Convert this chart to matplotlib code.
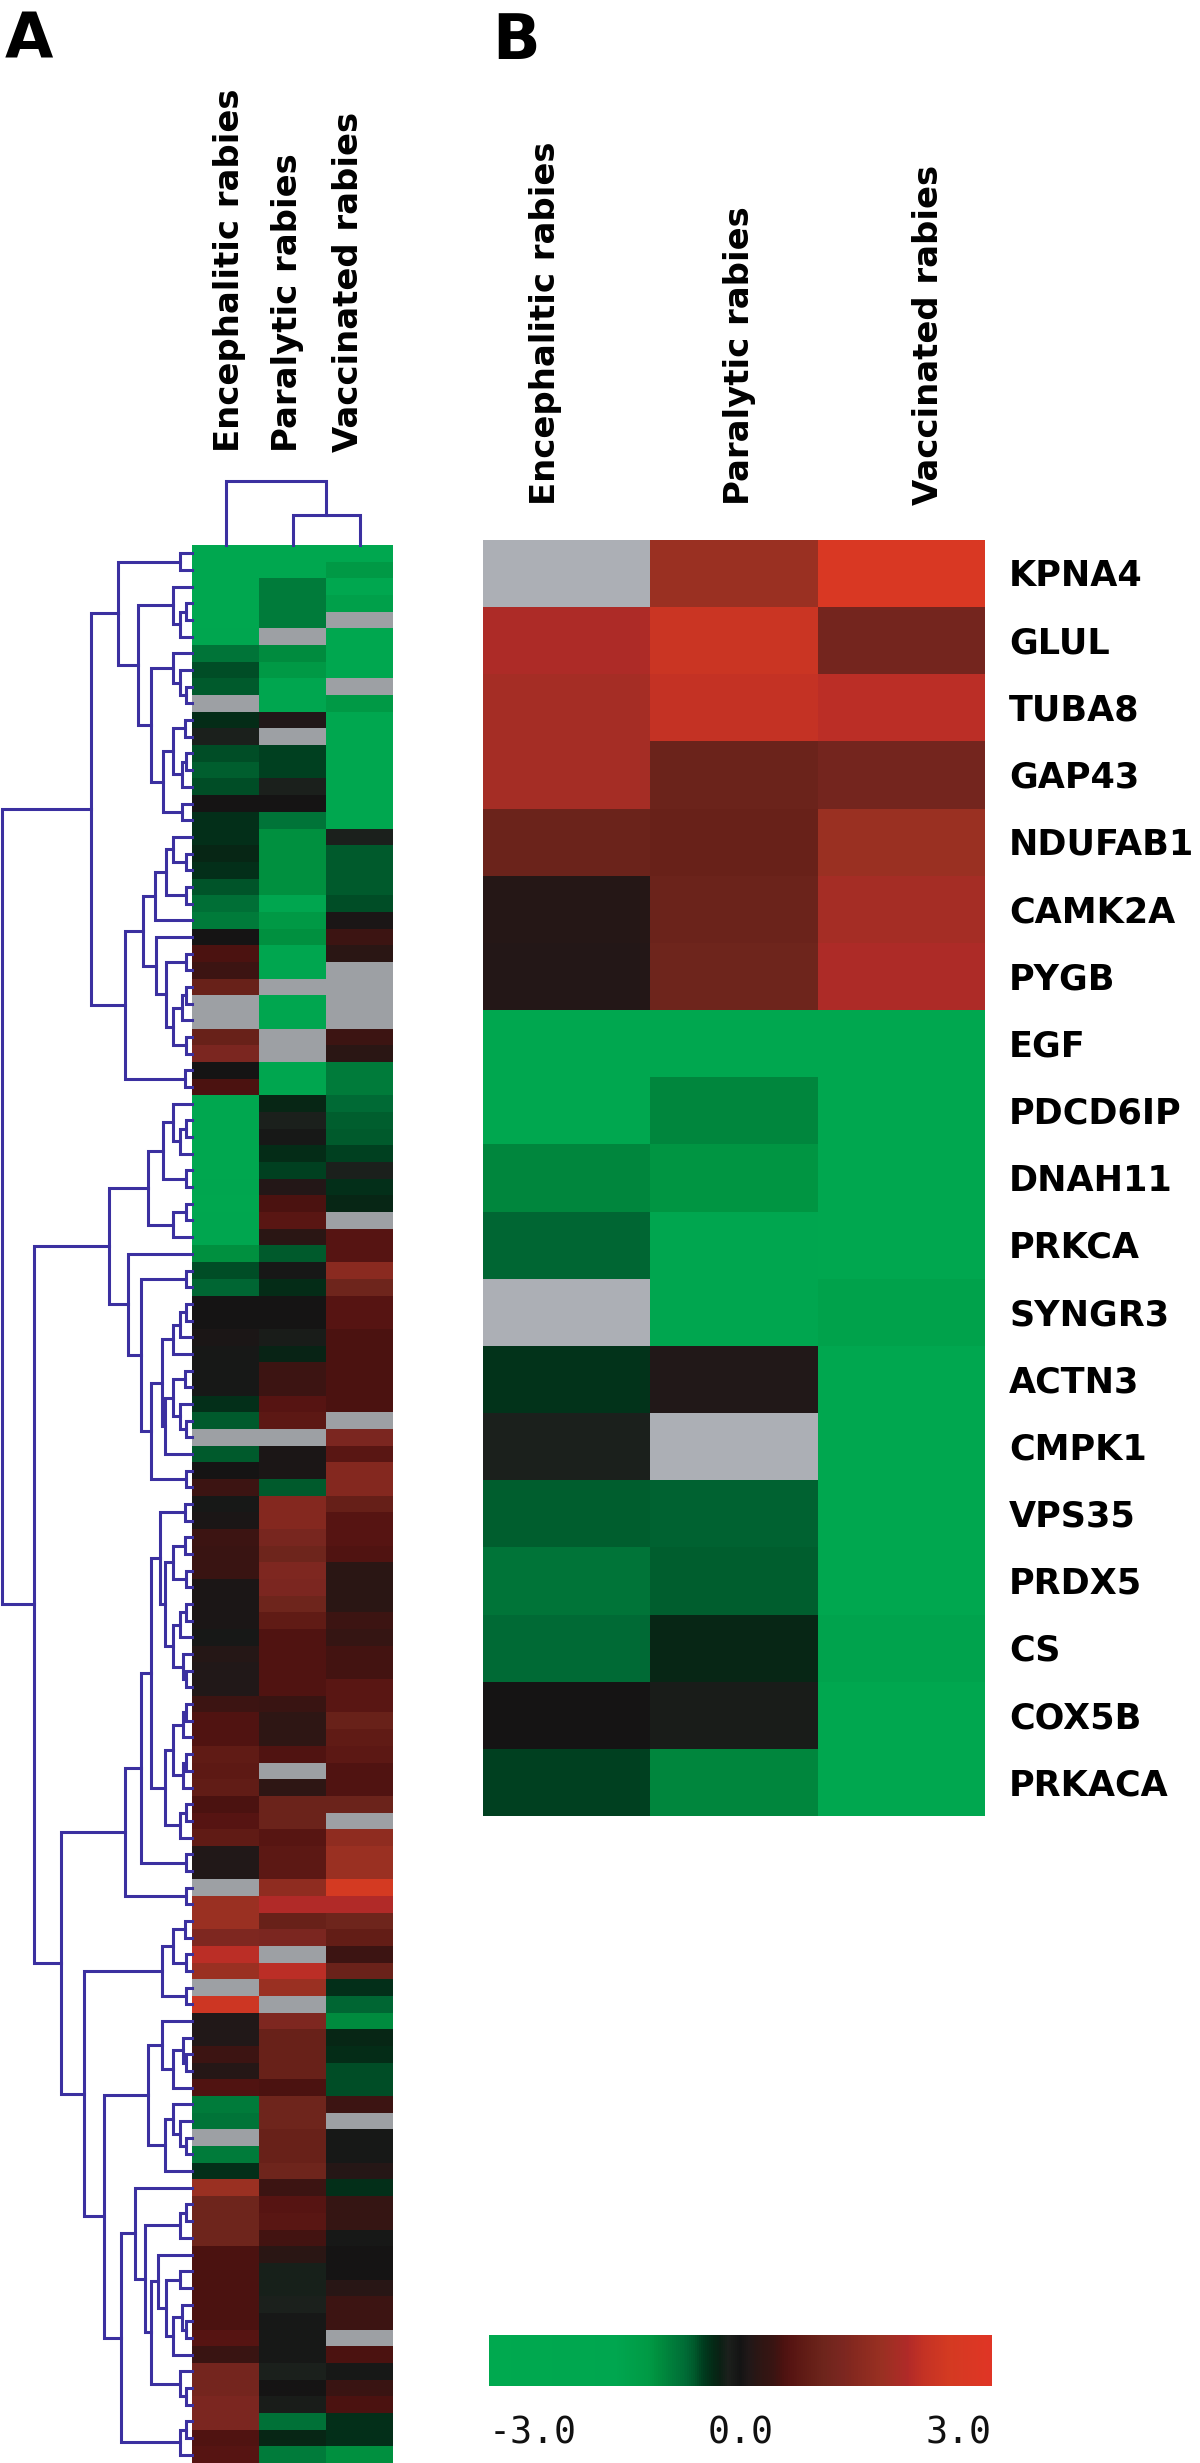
import numpy as np
import matplotlib
matplotlib.use('Agg')
import matplotlib.pyplot as plt
import matplotlib.transforms as mtransforms
from matplotlib.colors import LinearSegmentedColormap, Normalize
from matplotlib.cm import ScalarMappable

plt.rcParams['font.family'] = ['DejaVu Sans']

W, H = 1200, 2463
nan = np.nan

conditions = ['Encephalitic rabies', 'Paralytic rabies', 'Vaccinated rabies']

# panel A: log ratios, 115 genes in dendrogram order (nan = no data, grey)
enc_a = [-2.2, -2.2, -2.0, -1.9, -1.9, -1.6, -0.75, -0.5, -0.55, nan,
         -0.33, -0.15, -0.5, -0.58, -0.5, 0.0, -0.37, -0.37, -0.3, -0.36,
         -0.52, -0.7, -0.8, 0.0, 0.5, 0.42, 0.9, nan, nan, 0.9,
         1.2, 0.0, 0.5, -1.8, -1.8, -1.8, -1.8, -1.8, -1.7, -1.8,
         -1.7, -1.7, -1.0, -0.5, -0.62, 0.0, 0.0, 0.05, -0.05, -0.05,
         -0.05, -0.36, -0.55, nan, -0.55, 0.0, 0.4, -0.05, 0.05, 0.4,
         0.38, 0.38, 0.05, 0.05, 0.05, -0.05, 0.15, 0.1, 0.1, 0.42,
         0.55, 0.55, 0.75, 0.72, 0.78, 0.5, 0.6, 0.75, 0.1, 0.1,
         nan, 1.7, 1.7, 1.25, 2.1, 1.7, nan, 2.35, 0.1, 0.1,
         0.4, 0.15, 0.55, -0.8, -0.75, nan, -0.8, -0.36, 1.7, 1.0,
         1.0, 1.0, 0.5, 0.5, 0.5, 0.5, 0.5, 0.6, 0.38, 1.1,
         1.1, 1.2, 1.2, 0.55, 0.6]
par_a = [-2.0, -2.0, -0.8, -0.8, -0.8, nan, -0.95, -1.1, -1.5, -1.6,
         0.1, nan, -0.45, -0.45, -0.15, 0.0, -0.75, -1.0, -1.0, -1.0,
         -1.0, -1.5, -1.1, -1.0, -1.6, -1.6, nan, -1.6, -1.6, nan,
         nan, -1.6, -1.6, -0.3, -0.15, -0.05, -0.33, -0.45, 0.12, 0.5,
         0.65, 0.2, -0.55, -0.05, -0.33, 0.0, 0.0, -0.1, -0.28, 0.4,
         0.4, 0.6, 0.7, nan, 0.05, 0.05, -0.55, 1.35, 1.35, 1.15,
         1.0, 1.25, 1.2, 1.0, 0.75, 0.55, 0.55, 0.55, 0.55, 0.38,
         0.25, 0.25, 0.55, nan, 0.25, 0.95, 0.95, 0.62, 0.68, 0.68,
         1.5, 2.0, 0.9, 1.2, nan, 2.1, 1.7, nan, 1.25, 0.9,
         0.9, 0.9, 0.5, 1.0, 1.0, 0.9, 0.9, 1.0, 0.4, 0.6,
         0.65, 0.45, 0.2, -0.18, -0.18, -0.15, -0.05, -0.05, -0.05, -0.15,
         0.0, -0.1, -0.72, -0.3, -0.8]
vac_a = [-2.1, -1.1, -1.8, -1.3, nan, -1.8, -2.0, -2.0, nan, -1.1,
         -2.0, -2.0, -2.0, -2.0, -2.0, -2.0, -2.0, -0.15, -0.55, -0.55,
         -0.55, -0.5, 0.05, 0.4, 0.2, nan, nan, nan, nan, 0.4,
         0.2, -0.8, -0.8, -0.65, -0.58, -0.55, -0.45, -0.15, -0.37, -0.3,
         nan, 0.6, 0.6, 1.45, 1.0, 0.6, 0.6, 0.5, 0.5, 0.5,
         0.5, 0.5, nan, 1.2, 0.65, 1.35, 1.35, 0.85, 0.6, 0.6,
         0.55, 0.2, 0.2, 0.2, 0.4, 0.35, 0.45, 0.45, 0.65, 0.65,
         0.9, 0.75, 0.7, 0.55, 0.55, 0.95, nan, 1.5, 1.7, 1.7,
         2.5, 2.0, 1.0, 0.8, 0.42, 0.92, -0.36, -0.62, -0.95, -0.3,
         -0.35, -0.5, -0.5, 0.4, nan, -0.05, -0.05, 0.15, -0.36, 0.35,
         0.35, -0.05, 0.0, 0.0, 0.18, 0.42, 0.42, nan, 0.5, -0.05,
         0.38, 0.5, -0.36, -0.36, -1.0]

# panel B: selected genes
genes_b = ['KPNA4', 'GLUL', 'TUBA8', 'GAP43', 'NDUFAB1', 'CAMK2A', 'PYGB',
           'EGF', 'PDCD6IP', 'DNAH11', 'PRKCA', 'SYNGR3', 'ACTN3', 'CMPK1',
           'VPS35', 'PRDX5', 'CS', 'COX5B', 'PRKACA']
enc_b = [nan, 1.95, 1.85, 1.85, 0.95, 0.15, 0.12, -2.0, -2.0, -0.9,
         -0.62, nan, -0.38, -0.15, -0.58, -0.75, -0.64, 0.0, -0.45]
par_b = [1.7, 2.3, 2.2, 0.95, 0.9, 0.95, 1.0, -2.0, -0.9, -1.05,
         -1.5, -1.5, 0.1, nan, -0.6, -0.58, -0.3, -0.1, -0.9]
vac_b = [2.7, 1.1, 2.1, 1.1, 1.7, 1.85, 1.95, -2.0, -2.0, -2.0,
         -2.0, -1.35, -2.0, -2.0, -2.0, -2.0, -1.4, -2.0, -2.0]

# gene tree: [height, left, right], ints are rows
t_0_16 = [0.39, [0.063, 0, 1],
          [0.284, [0.10, 2, [0.063, [0.03, 3, 4], 5]],
           [0.213, [0.10, 6, [0.063, 7, [0.03, 8, 9]]],
            [0.152, [0.10, [0.037, 10, 11], [0.055, [0.03, 12, 13], 14]],
             [0.055, 15, 16]]]]]
t_17_32 = [0.354,
           [0.257, [0.196, [0.134, [0.10, 17, [0.03, 18, 19]], [0.03, 20, 21]], 22],
            [0.187, 23, [0.134, [0.03, 24, 25],
                         [0.10, [0.055, [0.03, 26, 27], 28], [0.03, 29, 30]]]]],
           [0.037, 31, 32]]
t_33_41 = [0.23, [0.152, [0.10, 33, [0.063, [0.03, 34, 35], 36]], [0.03, 37, 38]],
           [0.10, [0.03, 39, 40], 41]]
t_42_56 = [0.337, 42,
           [0.266, [0.03, 43, 44],
            [0.213, [0.16, [0.10, [0.063, [0.03, 45, 46], 47], 48],
                     [0.143, [0.10, [0.037, 49, 50], [0.063, 51, [0.03, 52, 53]]], 54]],
             [0.03, 55, 56]]]]
t_57_68 = [0.169, [0.037, 57, 58],
           [0.143, [0.10, [0.037, 59, 60], [0.03, 61, 62]],
            [0.10, [0.063, [0.03, 63, 64], 65], [0.045, 66, [0.03, 67, 68]]]]]
t_69_77 = [0.143, [0.10, [0.045, [0.03, 69, 70], 71], [0.045, [0.03, 72, 73], 74]],
           [0.063, [0.03, 75, 76], 77]]
t_57_81 = [0.354, [0.266, [0.213, t_57_68, t_69_77], [0.03, 78, 79]], [0.03, 80, 81]]
t_82_87 = [0.16, [0.10, [0.037, 82, 83], [0.03, 84, 85]], [0.03, 86, 87]]
t_88_97 = [0.23, [0.16, 88, [0.10, [0.045, 89, [0.03, 90, 91]], 92]],
           [0.143, [0.10, 93, [0.063, 94, [0.03, 95, 96]]], 97]]
t_98_111 = [0.302, 98,
            [0.248, [0.063, [0.03, 99, 100], 101],
             [0.213, [0.178, 102, [0.134, [0.063, 103, 104],
                                   [0.10, [0.055, 105, [0.03, 106, 107]], 108]]],
              [0.063, 109, [0.03, 110, 111]]]]]
t_98_114 = [0.372, t_98_111, [0.063, [0.03, 112, 113], 114]]
row_tree = [1.0, [0.531, t_0_16, t_17_32],
            [0.83, [0.434, t_33_41, t_42_56],
             [0.69, t_57_81, [0.566, t_82_87, [0.46, t_88_97, t_98_114]]]]]
col_tree = [1.0, 0, [0.47, 1, 2]]

# colour scale
scale_vals = [-3.0, -1.5, -1.1, -1.0, -0.8, -0.65, -0.55, -0.45, -0.33, -0.25,
              -0.15, 0.0, 0.1, 0.2, 0.4, 0.5, 0.6, 0.8, 1.0, 1.2,
              1.35, 1.7, 2.0, 2.2, 2.5, 3.0]
scale_cols = ['#00a94f', '#00a64f', '#009a45', '#00903f', '#007a3a', '#006a35',
              '#005a2c', '#003d1f', '#042a16', '#0a2014', '#1c201c', '#131313',
              '#201818', '#2a1614', '#3a1412', '#4a1210', '#561412', '#621c16',
              '#6e251c', '#7a2620', '#84281f', '#9a3022', '#b02a28', '#c43224',
              '#d43a22', '#e03525']
cmap = LinearSegmentedColormap.from_list(
    'rg', [((v + 3) / 6, c) for v, c in zip(scale_vals, scale_cols)])
norm = Normalize(-3, 3)
tree_col = '#3b30a0'
lw = 2.2


def rect(x0, y0, x1, y1):
    return [x0 / W, 1 - y1 / H, (x1 - x0) / W, (y1 - y0) / H]


def draw_tree(ax, node, vertical):
    if isinstance(node, int):
        return node + 0.5, 0.0
    h, a, b = node
    pa, ha = draw_tree(ax, a, vertical)
    pb, hb = draw_tree(ax, b, vertical)
    hs = [ha, h, h, hb]
    ps = [pa, pa, pb, pb]
    if vertical:
        ax.plot(ps, hs, color=tree_col, lw=lw, clip_on=False, solid_joinstyle='miter')
    else:
        ax.plot(hs, ps, color=tree_col, lw=lw, clip_on=False, solid_joinstyle='miter')
    return (pa + pb) / 2, h


fig = plt.figure(figsize=(W / 100, H / 100), dpi=100)

# ---- panel A
data_a = np.ma.masked_invalid(np.array([enc_a, par_a, vac_a]).T)
ax_a = fig.add_axes(rect(192, 545, 393, 2463))
ax_a.pcolormesh(data_a, cmap=cmap.with_extremes(bad='#9da0a4'), norm=norm,
                edgecolors='none', antialiased=False)
ax_a.set_xlim(0, 3)
ax_a.set_ylim(len(enc_a), 0)
ax_a.axis('off')

ax_rd = fig.add_axes(rect(1.7, 545, 192, 2463))
draw_tree(ax_rd, row_tree, vertical=False)
ax_rd.set_xlim(1.0, 0)
ax_rd.set_ylim(len(enc_a), 0)
ax_rd.axis('off')

ax_cd = fig.add_axes(rect(192, 481, 393, 545))
draw_tree(ax_cd, col_tree, vertical=True)
ax_cd.set_xlim(0, 3)
ax_cd.set_ylim(0, 1)
ax_cd.axis('off')

for lab, x in zip(conditions, [229, 287, 349]):
    fig.text(x / W, 1 - 452 / H, lab, rotation=90, ha='center', va='bottom',
             fontsize=24.4, fontweight='bold')

# ---- panel B
data_b = np.ma.masked_invalid(np.array([enc_b, par_b, vac_b]).T)
ax_b = fig.add_axes(rect(483, 540, 985, 1816))
ax_b.pcolormesh(data_b, cmap=cmap.with_extremes(bad='#acafb5'), norm=norm,
                edgecolors='none', antialiased=False)
ax_b.set_xlim(0, 3)
ax_b.set_ylim(len(genes_b), 0)
ax_b.axis('off')

trans = mtransforms.blended_transform_factory(ax_b.transAxes, ax_b.transData)
for i, g in enumerate(genes_b):
    ax_b.text((1009 - 483) / 502, i + 0.5 + 0.19, g, transform=trans,
              ha='left', va='baseline', fontsize=25.2, fontweight='bold')

for lab, x in zip(conditions, [546, 740, 928]):
    fig.text(x / W, 1 - 505 / H, lab, rotation=90, ha='center', va='bottom',
             fontsize=24.4, fontweight='bold')

# ---- colour bar
cax = fig.add_axes(rect(489, 2335, 992, 2386))
cb = fig.colorbar(ScalarMappable(norm=norm, cmap=cmap), cax=cax, orientation='horizontal')
cb.outline.set_visible(False)
cax.set_xticks([])
ctrans = mtransforms.blended_transform_factory(cax.transData, cax.transAxes)
for v, ha in zip([-3, 0, 3], ['left', 'center', 'right']):
    cax.text(v, -(2444 - 2386) / 51, f'{v:.1f}', transform=ctrans, ha=ha,
             va='baseline', fontsize=26.3, family='DejaVu Sans Mono', color='#111111')

# panel letters
fig.text(5 / W, 1 - 57 / H, 'A', ha='left', va='baseline', fontsize=45, fontweight='bold')
fig.text(492 / W, 1 - 59 / H, 'B', ha='left', va='baseline', fontsize=45, fontweight='bold')

fig.savefig('out.png', dpi=100)
